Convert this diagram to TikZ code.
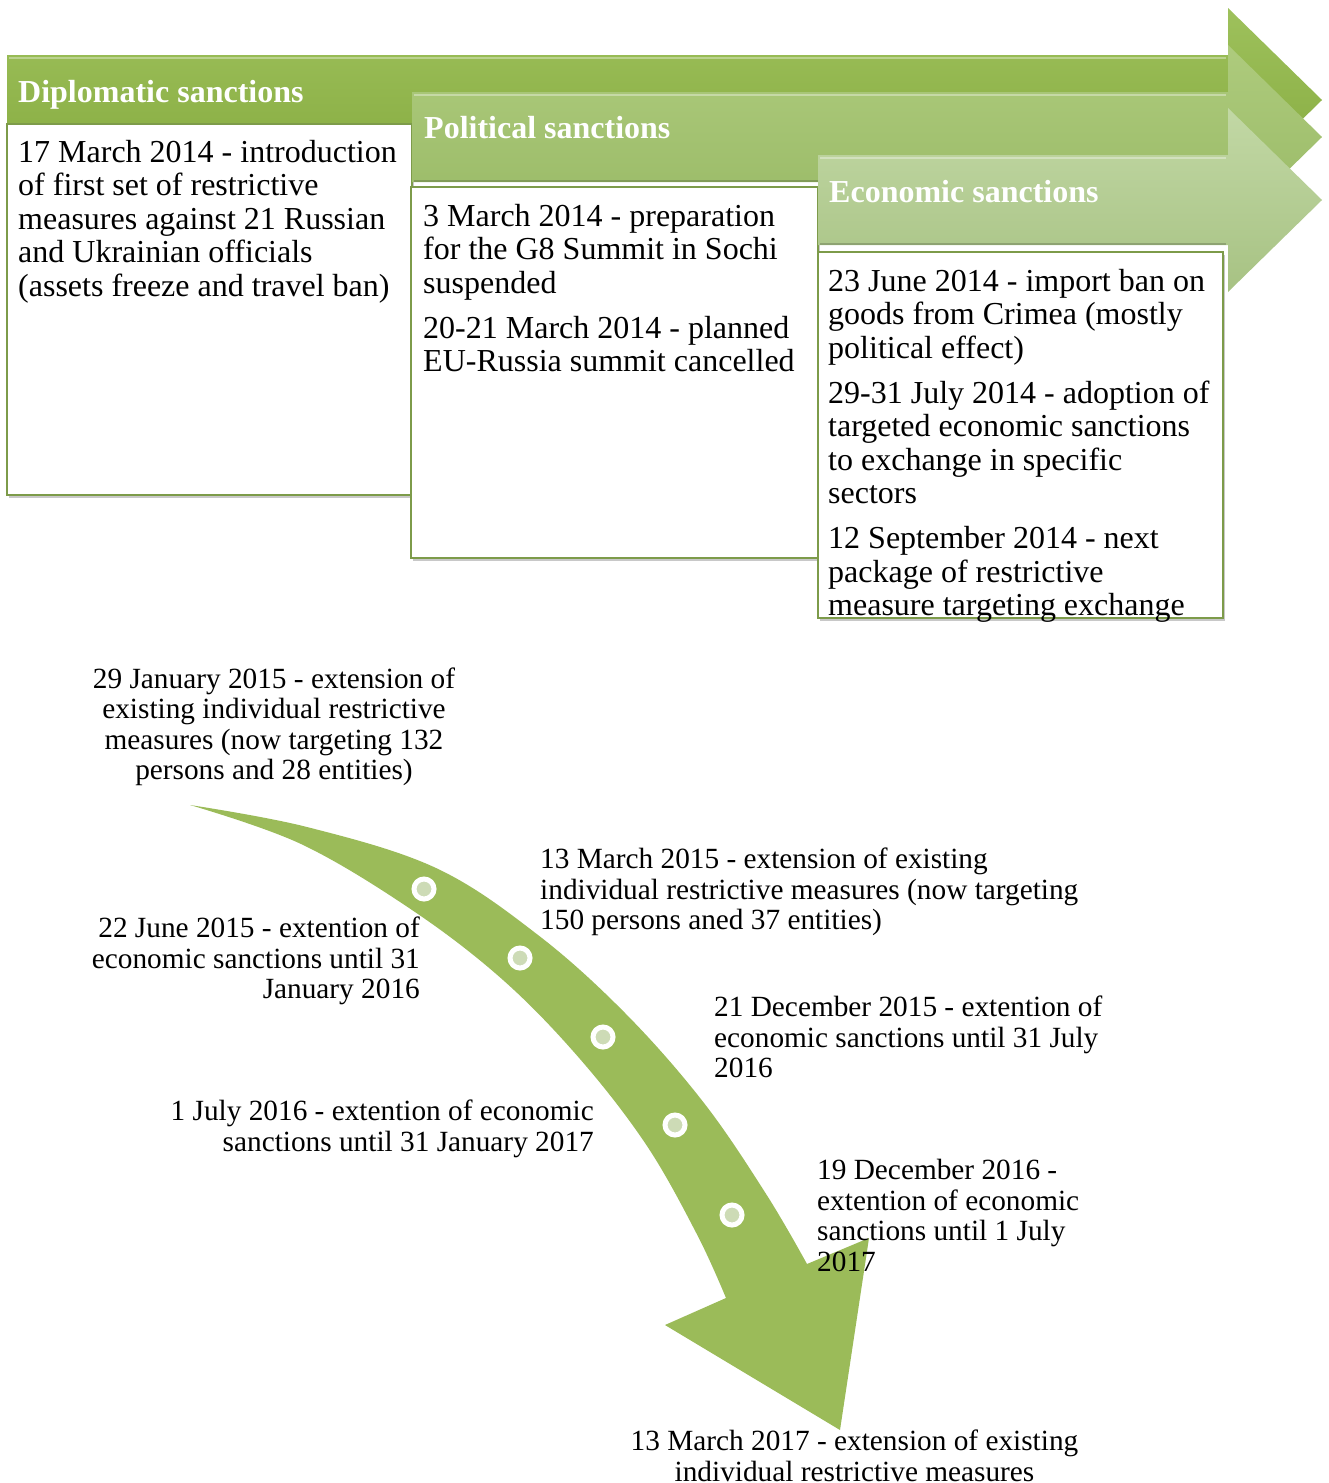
\documentclass[tikz,border=0pt]{standalone}
\usepackage{fontspec}
\setmainfont{Liberation Serif}
\usetikzlibrary{shadows}
\definecolor{band}{HTML}{9BBB59}
\definecolor{dotfill}{HTML}{CDDBB6}
\definecolor{boxline}{HTML}{7D9B4A}
\definecolor{aoneT}{HTML}{9EC15C}
\definecolor{aoneB}{HTML}{84A93D}
\definecolor{atwoT}{HTML}{AECB7D}
\definecolor{atwoB}{HTML}{98B965}
\definecolor{athreeT}{HTML}{C2D8A5}
\definecolor{athreeB}{HTML}{A7C283}
\begin{document}
\begin{tikzpicture}[x=1pt,y=-1pt,
  boxtext/.style={anchor=north west, inner sep=0pt, align=left, font=\fontsize{32}{33.5}\selectfont},
  headtext/.style={anchor=base west, inner sep=0pt, text=white, font=\fontsize{32}{36}\selectfont\bfseries},
  bottxt/.style={inner sep=0pt, font=\fontsize{29.3}{30.5}\selectfont},
  panel/.style={fill=white, draw=boxline, line width=1.8pt, drop shadow={shadow xshift=2pt, shadow yshift=-3pt, opacity=0.3, fill=black!70}},
  dot/.style={circle, fill=dotfill, draw=white, line width=5pt, minimum size=20pt, inner sep=0pt},
  hilite/.style={white, opacity=0.35, line width=2pt},
  lowline/.style={black, opacity=0.18, line width=2.5pt}]
\useasboundingbox (0,0) rectangle (1329,1483);
\fill[white] (0,0) rectangle (1329,1483);

% ---- arrow 1: Diplomatic
\shade[top color=aoneT, bottom color=aoneB] (7,55) -- (1228,55) -- (1228,8) -- (1322,100) -- (1228,192) -- (1228,145) -- (7,145) -- cycle;
\draw[hilite] (9,58) -- (1226,58);
\node[headtext] (hdip) at (18,102) {Diplomatic sanctions};
\draw[panel] (7,124) rectangle (412,495);
\node[boxtext] (tdip) at (18,138.5) {\strut 17 March 2014 - introduction\\
of first set of restrictive\\
measures against 21 Russian\\
and Ukrainian officials\\
(assets freeze and travel ban)};

% ---- arrow 2: Political
\shade[top color=atwoT, bottom color=atwoB] (412,92) -- (1228,92) -- (1228,45) -- (1322,137) -- (1228,229) -- (1228,182) -- (412,182) -- cycle;
\draw[hilite] (414,95) -- (1226,95);
\draw[lowline] (414,181) -- (1226,181);
\node[headtext] (hpol) at (424,138) {Political sanctions};
\draw[panel] (411,187) rectangle (818,558);
\node[boxtext] (tpol) at (423,202.5) {\strut 3 March 2014 - preparation\\
for the G8 Summit in Sochi\\
suspended\\[11.5pt]
20-21 March 2014 - planned\\
EU-Russia summit cancelled};

% ---- arrow 3: Economic
\shade[top color=athreeT, bottom color=athreeB] (818,155) -- (1228,155) -- (1228,108) -- (1322,200) -- (1228,292) -- (1228,245) -- (818,245) -- cycle;
\draw[hilite] (820,158) -- (1226,158);
\draw[lowline] (820,244) -- (1226,244);
\node[headtext] (heco) at (829,202) {Economic sanctions};
\draw[panel] (818,252) rectangle (1223,618);
\node[boxtext] (teco) at (828,267.5) {\strut 23 June 2014 - import ban on\\
goods from Crimea (mostly\\
political effect)\\[11.5pt]
29-31 July 2014 - adoption of\\
targeted economic sanctions\\
to exchange in specific\\
sectors\\[11.5pt]
12 September 2014 - next\\
package of restrictive\\
measure targeting exchange};

% ---- curved timeline arrow
\fill[band] plot[smooth, tension=0.6] coordinates {(190,805) (307,827) (436,868) (538,935) (626,1014) (704,1103) (766.6,1194.8) (807,1264)}
  -- (869,1238) -- (840,1430) -- (665,1325)
  -- plot[smooth, tension=0.6] coordinates {(726,1298) (697.4,1235.2) (646.7,1145.5) (580,1059) (503,980) (412,910) (301,844) (190,805)} -- cycle;

\node[dot] (d1) at (424,889) {};
\node[dot] (d2) at (520,958) {};
\node[dot] (d3) at (603,1037) {};
\node[dot] (d4) at (675,1125) {};
\node[dot] (d5) at (732,1215) {};

\node[bottxt, anchor=north, align=center] (b1) at (274,666.7) {\strut 29 January 2015 - extension of\\
existing individual restrictive\\
measures (now targeting 132\\
persons and 28 entities)};
\node[bottxt, anchor=north west, align=left] (b2) at (540,847.2) {\strut 13 March 2015 - extension of existing\\
individual restrictive measures (now targeting\\
150 persons aned 37 entities)};
\node[bottxt, anchor=north east, align=right] (b3) at (420,916.2) {\strut 22 June 2015 - extention of\\
economic sanctions until 31\\
January 2016};
\node[bottxt, anchor=north west, align=left] (b4) at (714,995.2) {\strut 21 December 2015 - extention of\\
economic sanctions until 31 July\\
2016};
\node[bottxt, anchor=north east, align=right] (b5) at (594,1099.2) {\strut 1 July 2016 - extention of economic\\
sanctions until 31 January 2017};
\node[bottxt, anchor=north west, align=left] (b6) at (817,1158.2) {\strut 19 December 2016 -\\
extention of economic\\
sanctions until 1 July\\
2017};
\node[bottxt, anchor=north, align=center] (b7) at (854.5,1429.2) {\strut 13 March 2017 - extension of existing\\
individual restrictive measures};
\end{tikzpicture}
\end{document}
